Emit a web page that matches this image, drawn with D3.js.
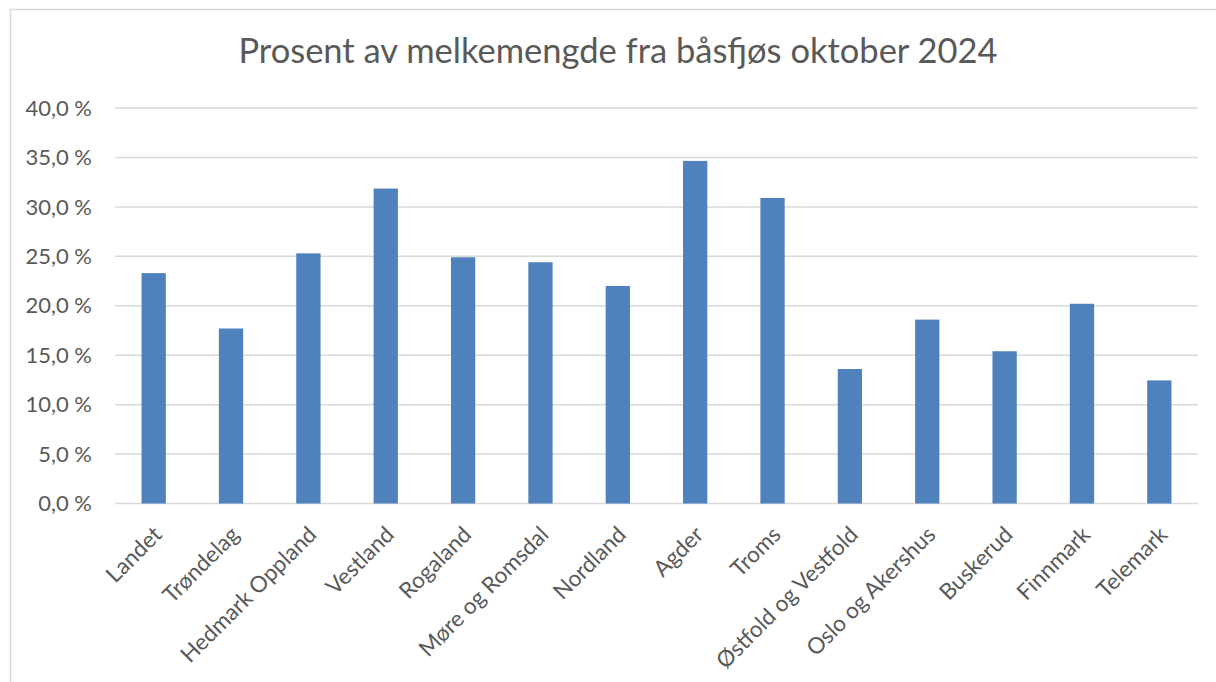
<!DOCTYPE html>
<html>
<head>
<meta charset="utf-8">
<script src="https://cdn.jsdelivr.net/npm/d3@7"></script>
<style>
  body { margin: 0; background: #fff; }
  text { font-family: Lato, "Open Sans", sans-serif; fill: #595959; }
</style>
</head>
<body>
<div id="chart"></div>
<script>
// regions, left to right
const regions = ["Landet", "Trøndelag", "Hedmark Oppland", "Vestland", "Rogaland", "Møre og Romsdal",
  "Nordland", "Agder", "Troms", "Østfold og Vestfold", "Oslo og Akershus", "Buskerud", "Finnmark", "Telemark"];
// percent of milk from tie-stall barns, oct 2024
const shares = [23.3, 17.7, 25.3, 31.85, 24.9, 24.4, 22.0, 34.65, 30.9, 13.6, 18.6, 15.4, 20.2, 12.45];
const yTicks = [0, 5, 10, 15, 20, 25, 30, 35, 40];
const title = "Prosent av melkemengde fra båsfjøs oktober 2024";

const W = 1216, H = 682;
const margin = {top: 108, right: 18, bottom: 178, left: 115};

const svg = d3.select("#chart").append("svg")
  .attr("width", W).attr("height", H);

// chart frame (only top + left visible in the crop)
svg.append("path")
  .attr("d", "M10.5," + H + "V9.5H" + W)
  .attr("fill", "none")
  .attr("stroke", "#d9d9d9")
  .attr("stroke-width", 1.5);

const x = d3.scaleBand()
  .domain(regions)
  .range([margin.left, W - margin.right])
  .paddingInner(0.686)
  .paddingOuter(0.343);

const y = d3.scaleLinear()
  .domain([0, 40])
  .range([H - margin.bottom - 0.5, margin.top]);

// gridlines
svg.append("g")
  .selectAll("line")
  .data(yTicks)
  .enter().append("line")
  .attr("x1", margin.left)
  .attr("x2", W - margin.right)
  .attr("y1", d => y(d))
  .attr("y2", d => y(d))
  .attr("stroke", "#d9d9d9")
  .attr("stroke-width", 1.5);

// y labels
const fmt = d => d.toFixed(1).replace(".", ",") + " %";
svg.append("g")
  .selectAll("text")
  .data(yTicks)
  .enter().append("text")
  .attr("x", 92)
  .attr("y", d => y(d))
  .attr("dy", "0.35em")
  .attr("text-anchor", "end")
  .style("font-size", "22px")
  .text(fmt);

// bars
svg.append("g")
  .selectAll("rect")
  .data(regions)
  .enter().append("rect")
  .attr("x", d => x(d))
  .attr("width", x.bandwidth())
  .attr("y", (d, i) => y(shares[i]))
  .attr("height", (d, i) => y(0) - y(shares[i]))
  .attr("fill", "#4f81bd");

// x labels, rotated
svg.append("g")
  .selectAll("text")
  .data(regions)
  .enter().append("text")
  .attr("transform", d => "translate(" + (x(d) + x.bandwidth() / 2 + 4) + "," + (y(0) + 27) + ") rotate(-45)")
  .attr("text-anchor", "end")
  .attr("dy", "0.35em")
  .style("font-size", "22.5px")
  .text(d => d);

// title
svg.append("text")
  .attr("x", 618)
  .attr("y", 63)
  .attr("text-anchor", "middle")
  .style("font-size", "34.5px")
  .text(title);
</script>
</body>
</html>
